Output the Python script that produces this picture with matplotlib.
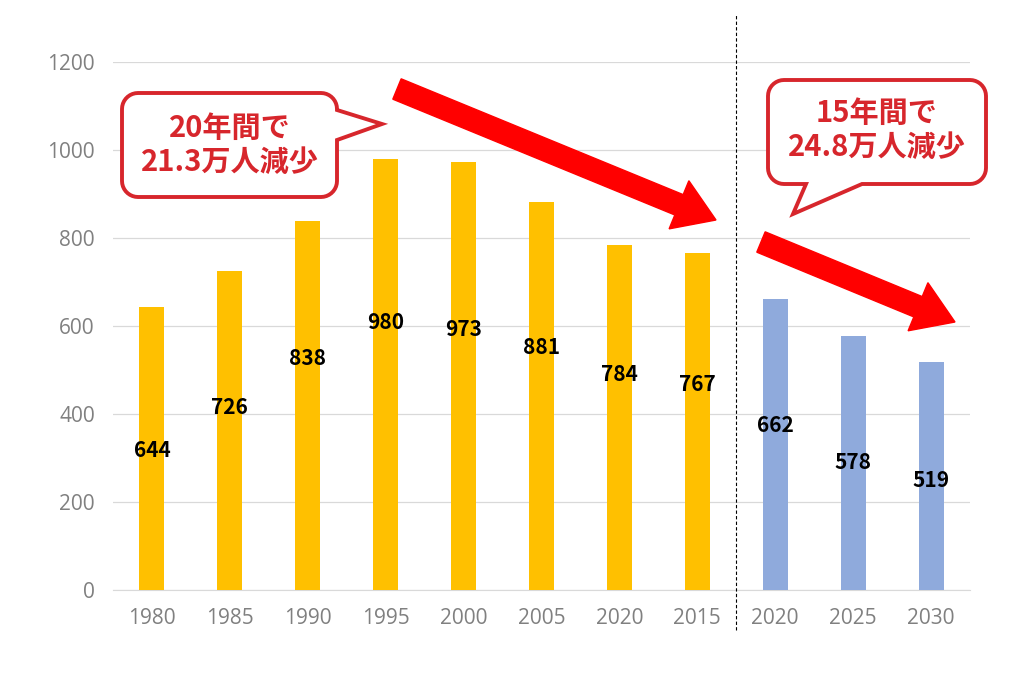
import numpy as np
import matplotlib
matplotlib.use("Agg")
import matplotlib.pyplot as plt
from matplotlib.patches import Polygon, FancyArrow
from matplotlib.transforms import IdentityTransform

plt.rcParams['font.family'] = ['Noto Sans CJK JP', 'DejaVu Sans']

# datos
years = ["1980", "1985", "1990", "1995", "2000", "2005", "2020", "2015", "2020", "2025", "2030"]
values = [644, 726, 838, 980, 973, 881, 784, 767, 662, 578, 519]
yticks = [0, 200, 400, 600, 800, 1000, 1200]
n_actual = 8
callout1 = "20年間で\n21.3万人減少"
callout2 = "15年間で\n24.8万人減少"

W, H = 1024, 683
fig = plt.figure(figsize=(W / 100, H / 100), dpi=100)
ax = fig.add_axes([113 / W, 1 - 590 / H, 857 / W, 528 / H])

x = np.arange(len(values))
colors = ["#FFC000"] * n_actual + ["#8FAADC"] * (len(values) - n_actual)
ax.bar(x, values, width=0.32, color=colors, zorder=3)

# etiquetas (posicion vertical)
label_y = [316, 414, 527, 609, 591, 550, 489, 466, 375, 289, 248]
for xi, v, ly in zip(x, values, label_y):
    ax.text(xi, ly, str(v), ha="center", va="center", fontsize=15,
            fontweight="bold", color="black", zorder=4)

ax.set_xlim(-0.5, len(values) - 0.5)
ax.set_ylim(0, 1200)
ax.set_yticks(yticks)
ax.set_yticklabels([str(t) for t in yticks], fontfamily="Open Sans")
ax.set_xticks(x)
ax.set_xticklabels(years, fontfamily="Open Sans")
ax.grid(axis="y", color="#d9d9d9", linewidth=0.9, zorder=0)
for s in ["top", "right", "left"]:
    ax.spines[s].set_visible(False)
ax.spines["bottom"].set_color("#d9d9d9")
ax.tick_params(axis="y", length=0, labelsize=15, labelcolor="#808080", pad=13)
ax.tick_params(axis="x", length=0, labelsize=15, labelcolor="#808080", pad=13)

# linea discontinua entre real y proyeccion
ax.axvline(n_actual - 0.5, ymin=-0.076, ymax=1.089, color="black",
           linestyle=(0, (3, 2)), linewidth=0.8, clip_on=False, zorder=5)


def px(xp, yp):
    return (xp, H - yp)


def burbuja(x0, y0, x1, y1, r, tail, side):
    # rectangulo redondeado con cola, en pixeles de la imagen
    pts = []
    def arc(cx, cy, a0, a1):
        for a in np.linspace(a0, a1, 10):
            pts.append((cx + r * np.cos(a), cy + r * np.sin(a)))
    # empezamos arriba-izquierda, sentido horario (y hacia abajo)
    arc(x0 + r, y0 + r, np.pi, 1.5 * np.pi)
    arc(x1 - r, y0 + r, 1.5 * np.pi, 2 * np.pi)
    if side == "right":
        pts.extend(tail)
    arc(x1 - r, y1 - r, 0, 0.5 * np.pi)
    if side == "bottom":
        pts.extend(tail)
    arc(x0 + r, y1 - r, 0.5 * np.pi, np.pi)
    return Polygon([px(a, b) for a, b in pts], closed=True,
                   transform=IdentityTransform(), facecolor="white",
                   edgecolor="#D7262C", linewidth=2.8, zorder=10)


b1 = burbuja(122, 93, 337, 197, 16,
             [(337, 110), (382, 124), (337, 140)], "right")
b2 = burbuja(768, 80, 986, 184, 16,
             [(862, 184), (793, 214), (806, 184)], "bottom")
fig.patches.extend([b1, b2])

fig.text(230 / W, 1 - 145 / H, callout1, ha="center", va="center",
         fontsize=21, fontweight="bold", color="#D7262C", linespacing=1.2, zorder=11)
fig.text(877 / W, 1 - 130 / H, callout2, ha="center", va="center",
         fontsize=21, fontweight="bold", color="#D7262C", linespacing=1.2, zorder=11)

# flechas
for (xa, ya), (xb, yb) in [((397, 89), (716, 220)), ((761, 242), (955, 322))]:
    sx, sy = px(xa, ya)
    ex, ey = px(xb, yb)
    arr = FancyArrow(sx, sy, ex - sx, ey - sy, width=22, head_width=52,
                     head_length=40, length_includes_head=True,
                     transform=IdentityTransform(), color="#FF0000", zorder=12)
    fig.patches.append(arr)

fig.savefig("out.png", dpi=100)
